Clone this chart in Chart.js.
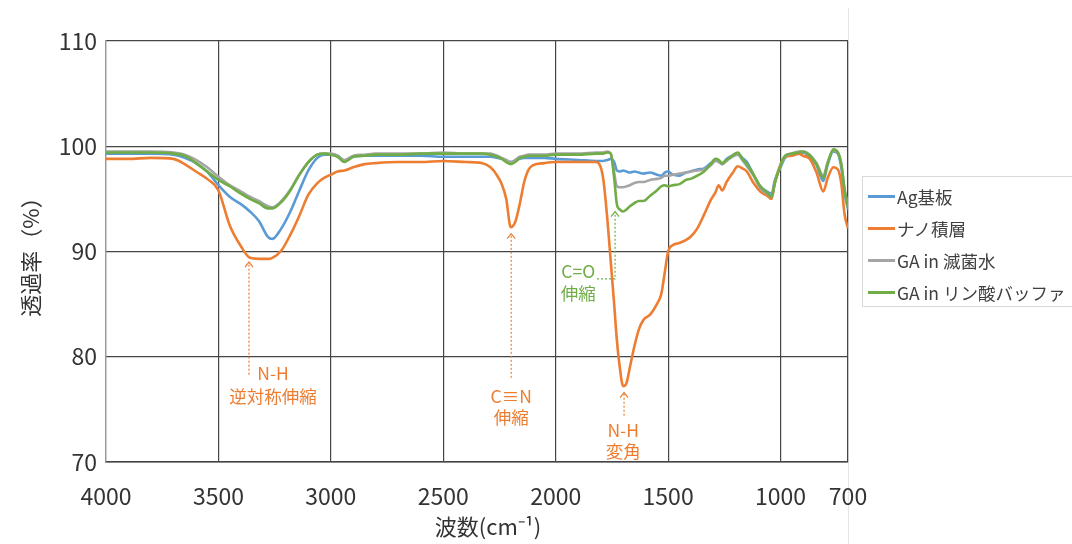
<!DOCTYPE html>
<html>
<head>
<meta charset="utf-8">
<script src="https://cdn.jsdelivr.net/npm/chart.js@4.4.1/dist/chart.umd.min.js"></script>
<style>
  body { margin: 0; background: #fff; }
  #wrap { position: relative; width: 1072px; height: 544px; overflow: hidden; }
  #edge { position: absolute; left: 848px; top: 8px; width: 1px; height: 536px; background: #e6e6e6; }
  #myChart { position: absolute; left: 0; top: 0; }
  #legend {
    position: absolute; left: 862px; top: 176px; width: 220px; height: 131px;
    border: 1px solid #d9d9d9; box-sizing: border-box; padding-top: 3px;
    font-family: "Noto Sans CJK JP", sans-serif; font-size: 17.5px; color: #404040;
  }
  .row { height: 32px; display: flex; align-items: center; white-space: nowrap; }
  .swatch { width: 27px; height: 3px; margin-left: 5px; margin-right: 2px; }
</style>
</head>
<body>
<div id="wrap">
  <div id="edge"></div>
  <canvas id="myChart" width="1072" height="544"></canvas>
  <div id="legend"></div>
</div>
<script>
// Wavenumbers (cm-1) shared by every series
const wavenumbers = [4000, 3900, 3800, 3700, 3650, 3600, 3550, 3500, 3450, 3400, 3360, 3320, 3280, 3260, 3220, 3180, 3140, 3100, 3060, 3030,
  3000, 2970, 2940, 2900, 2850, 2800, 2700, 2600, 2500, 2400, 2330, 2290, 2260, 2240, 2220, 2200, 2180, 2160, 2140, 2120,
  2100, 2050, 2000, 1900, 1820, 1790, 1770, 1755, 1740, 1728, 1715, 1700, 1685, 1670, 1650, 1630, 1610, 1580, 1550, 1530,
  1515, 1500, 1480, 1450, 1420, 1400, 1370, 1340, 1310, 1290, 1275, 1260, 1240, 1215, 1190, 1170, 1150, 1120, 1090, 1060,
  1040, 1025, 1000, 980, 950, 920, 900, 870, 840, 810, 790, 765, 745, 730, 715, 700];

// Transmittance (%) per sample
const agSubstrate = [99.3, 99.3, 99.3, 99.2, 98.9, 98.4, 97.6, 96.3, 95.2, 94.5, 93.8, 92.9, 91.4, 91.2, 92.2, 93.8, 95.8, 97.7, 98.9, 99.2,
  99.2, 99.1, 98.6, 99.0, 99.1, 99.1, 99.1, 99.1, 99.0, 99.0, 99.0, 99.0, 98.9, 98.8, 98.6, 98.5, 98.6, 98.8, 98.9, 98.9,
  98.9, 98.9, 98.8, 98.7, 98.6, 98.6, 98.7, 98.8, 98.5, 97.7, 97.6, 97.7, 97.6, 97.5, 97.6, 97.5, 97.4, 97.5, 97.3, 97.2,
  97.5, 97.6, 97.3, 97.2, 97.5, 97.6, 97.8, 97.9, 98.4, 98.7, 98.6, 98.3, 98.8, 99.1, 99.3, 98.9, 98.5, 97.3, 96.2, 95.7,
  95.5, 96.8, 98.0, 98.9, 99.2, 99.3, 99.4, 99.0, 98.2, 96.7, 98.3, 99.5, 99.3, 98.0, 95.5, 94.0];
const nanoLayer = [98.8, 98.8, 98.9, 98.8, 98.3, 97.6, 96.9, 95.8, 92.5, 90.5, 89.4, 89.3, 89.3, 89.4, 90.1, 91.6, 93.4, 95.4, 96.5, 97.0,
  97.3, 97.6, 97.7, 98.0, 98.3, 98.4, 98.5, 98.5, 98.6, 98.5, 98.4, 98.0, 97.2, 96.4, 95.0, 92.3, 92.8, 94.5, 96.6, 97.8,
  98.2, 98.4, 98.5, 98.5, 98.5, 97.1, 93.0, 89.0, 85.0, 81.6, 79.0, 77.2, 77.5, 79.0, 81.0, 82.6, 83.5, 84.0, 85.0, 86.0,
  88.0, 90.0, 90.6, 90.8, 91.1, 91.4, 92.2, 93.5, 94.9, 95.6, 96.3, 95.8, 96.6, 97.4, 98.1, 97.9, 97.6, 96.5, 95.7, 95.3,
  95.0, 96.6, 98.3, 99.0, 99.1, 99.3, 99.1, 98.8, 97.5, 95.7, 97.0, 98.0, 97.8, 96.5, 93.5, 92.2];
const gaWater = [99.5, 99.5, 99.5, 99.4, 99.2, 98.7, 98.0, 97.1, 96.3, 95.7, 95.2, 94.8, 94.3, 94.2, 94.8, 95.9, 97.3, 98.5, 99.2, 99.3,
  99.3, 99.1, 98.7, 99.1, 99.2, 99.3, 99.3, 99.3, 99.4, 99.3, 99.3, 99.3, 99.1, 98.9, 98.7, 98.5, 98.7, 99.0, 99.1, 99.2,
  99.2, 99.2, 99.3, 99.3, 99.4, 99.4, 99.5, 99.3, 97.5, 96.2, 96.1, 96.1, 96.2, 96.3, 96.5, 96.6, 96.6, 96.8, 96.9, 97.0,
  97.2, 97.2, 97.3, 97.4, 97.5, 97.6, 97.7, 97.8, 98.2, 98.6, 98.5, 98.3, 98.6, 99.0, 99.2, 98.7, 98.1, 97.2, 96.0, 95.5,
  95.2, 96.6, 98.1, 99.0, 99.3, 99.5, 99.5, 99.2, 98.4, 97.2, 98.5, 99.6, 99.4, 98.4, 95.9, 94.3];
const gaBuffer = [99.4, 99.4, 99.4, 99.3, 99.1, 98.4, 97.6, 96.8, 96.2, 95.5, 95.0, 94.6, 94.1, 94.1, 94.7, 95.8, 97.3, 98.5, 99.2, 99.3,
  99.2, 99.0, 98.5, 99.0, 99.1, 99.2, 99.2, 99.3, 99.3, 99.3, 99.3, 99.2, 99.0, 98.8, 98.5, 98.3, 98.5, 98.9, 99.0, 99.1,
  99.1, 99.1, 99.2, 99.2, 99.3, 99.3, 99.4, 99.3, 97.0, 94.5, 94.0, 93.8, 94.0, 94.3, 94.6, 94.8, 94.8, 95.3, 95.8, 96.2,
  96.3, 96.2, 96.3, 96.4, 96.8, 96.9, 97.2, 97.6, 98.3, 98.8, 98.7, 98.4, 98.7, 99.1, 99.4, 98.8, 98.3, 97.3, 96.2, 95.6,
  95.2, 96.5, 98.2, 99.1, 99.3, 99.4, 99.5, 99.1, 98.3, 97.0, 98.4, 99.7, 99.4, 98.3, 95.8, 94.2];

const xTicks = [4000, 3500, 3000, 2500, 2000, 1500, 1000, 700];
const yTicks = [70, 80, 90, 100, 110];

const orange = "#ED7D31";
const green = "#70AD47";

// Peak labels, placed in wavenumber / transmittance units
const peakNotes = [
  { wn: 3364, top: 89.0, bottom: 78.3, textWn: 3257, textAt: [78.4, 76.2], lines: ["N-H", "逆対称伸縮"], color: orange },
  { wn: 2198, top: 91.7, bottom: 78.0, textWn: 2198, textAt: [76.2, 74.2], lines: ["C≡N", "伸縮"], color: orange },
  { wn: 1696, top: 76.6, bottom: 74.4, textWn: 1700, textAt: [73.0, 71.0], lines: ["N-H", "変角"], color: orange },
  { wn: 1736, top: 93.8, bottom: 87.4, elbow: 1816, textWn: 1900, textAt: [88.1, 86.0], lines: ["C=O", "伸縮"], color: green }
];

function points(values) {
  return wavenumbers.map((w, i) => ({ x: w, y: values[i] }));
}

const notesPlugin = {
  id: "peakNotes",
  afterDatasetsDraw(chart) {
    const { ctx, scales: { x, y } } = chart;
    ctx.save();
    peakNotes.forEach((n) => {
      const px = x.getPixelForValue(n.wn);
      const top = y.getPixelForValue(n.top);
      const bottom = y.getPixelForValue(n.bottom);
      ctx.strokeStyle = n.color;
      ctx.lineWidth = 1.2;
      ctx.setLineDash([2, 2]);
      ctx.beginPath();
      if (n.elbow) {
        ctx.moveTo(x.getPixelForValue(n.elbow), bottom);
        ctx.lineTo(px, bottom);
      } else {
        ctx.moveTo(px, bottom);
      }
      ctx.lineTo(px, top + 1);
      ctx.stroke();
      ctx.setLineDash([]);
      ctx.beginPath();
      ctx.moveTo(px - 4, top + 5);
      ctx.lineTo(px, top);
      ctx.lineTo(px + 4, top + 5);
      ctx.stroke();
      ctx.fillStyle = n.color;
      ctx.font = "17.5px 'Noto Sans CJK JP'";
      ctx.textAlign = "center";
      ctx.textBaseline = "middle";
      n.lines.forEach((t, i) => {
        ctx.fillText(t, x.getPixelForValue(n.textWn), y.getPixelForValue(n.textAt[i]));
      });
    });
    ctx.restore();
  }
};

const series = [
  { label: "Ag基板", data: agSubstrate, color: "#5B9BD5", order: 4 },
  { label: "ナノ積層", data: nanoLayer, color: orange, order: 3 },
  { label: "GA in 滅菌水", data: gaWater, color: "#A5A5A5", order: 2 },
  { label: "GA in リン酸バッファ", data: gaBuffer, color: green, order: 1 }
];

const tickFont = { family: "'Noto Sans CJK JP'", size: 23 };

const ctx = document.getElementById("myChart").getContext("2d");
const myChart = new Chart(ctx, {
  type: "line",
  data: {
    datasets: series.map((s) => ({
      label: s.label,
      data: points(s.data),
      borderColor: s.color,
      backgroundColor: s.color,
      borderWidth: 2.6,
      pointRadius: 0,
      cubicInterpolationMode: "monotone",
      order: s.order
    }))
  },
  options: {
    responsive: false,
    animation: false,
    devicePixelRatio: 1,
    layout: { padding: { top: 41, right: 224, bottom: 0, left: 0 } },
    plugins: { legend: { display: false }, tooltip: { enabled: false } },
    scales: {
      x: {
        type: "linear",
        reverse: true,
        min: 700,
        max: 4000,
        afterBuildTicks: (scale) => { scale.ticks = xTicks.map((v) => ({ value: v })); },
        afterFit: (scale) => { scale.height = 82; },
        grid: { color: "#454545", lineWidth: 1.2, drawTicks: false },
        border: { color: "#454545", width: 1.6 },
        ticks: { font: tickFont, color: "#333", padding: 20, maxRotation: 0, autoSkip: false, callback: (v) => String(v) },
        title: {
          display: true,
          text: "\u2003波数(cm⁻¹)",
          font: { family: "'Noto Sans CJK JP'", size: 22 },
          color: "#333",
          padding: { top: 0, bottom: 4 }
        }
      },
      y: {
        min: 70,
        max: 110,
        afterBuildTicks: (scale) => { scale.ticks = yTicks.map((v) => ({ value: v })); },
        afterFit: (scale) => { scale.width = 106; },
        grid: { color: "#454545", lineWidth: 1.2, drawTicks: false },
        border: { color: "#9a9a9a", width: 1.2 },
        ticks: { font: tickFont, color: "#333", padding: 9, callback: (v) => String(v) },
        title: {
          display: true,
          text: "透過率（%）",
          font: { family: "'Noto Sans CJK JP'", size: 22 },
          color: "#333",
          padding: { top: 17, bottom: 0 }
        }
      }
    }
  },
  plugins: [notesPlugin]
});

// Legend drawn as HTML next to the plot
const legendEl = document.getElementById("legend");
series.forEach((s) => {
  const row = document.createElement("div");
  row.className = "row";
  const sw = document.createElement("span");
  sw.className = "swatch";
  sw.style.background = s.color;
  const txt = document.createElement("span");
  txt.textContent = s.label;
  row.appendChild(sw);
  row.appendChild(txt);
  legendEl.appendChild(row);
});
</script>
</body>
</html>
